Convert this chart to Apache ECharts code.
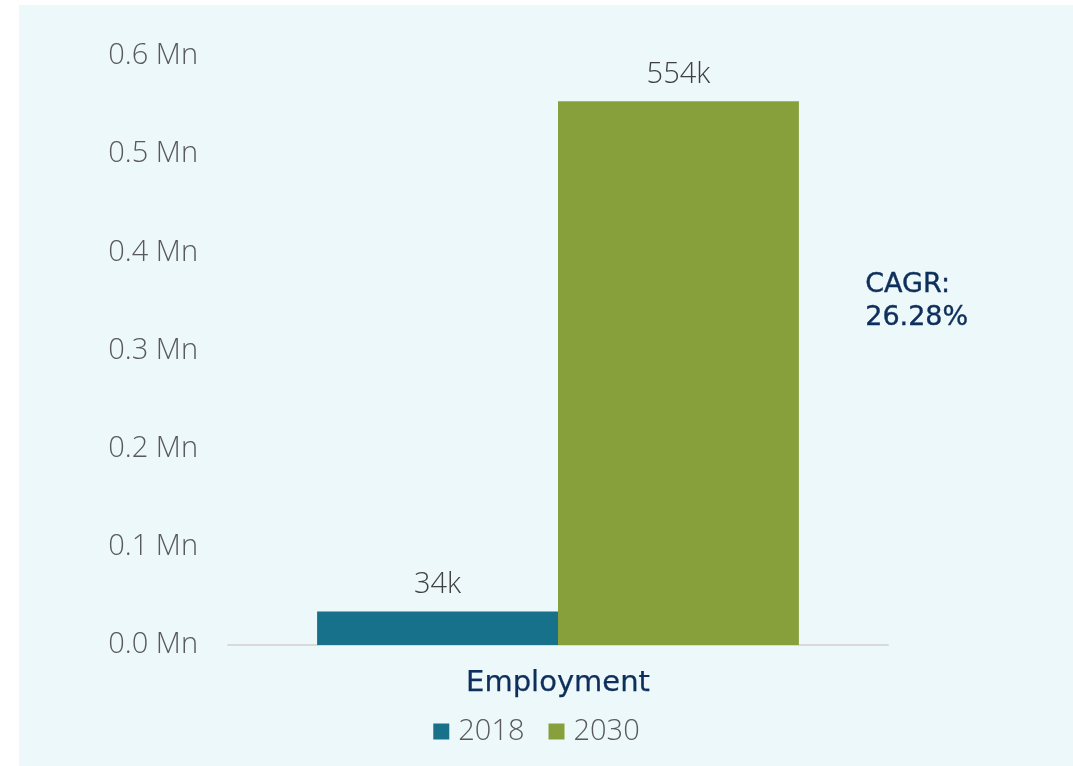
<!DOCTYPE html>
<html><head><meta charset="utf-8">
<style>html,body{margin:0;padding:0;background:#fff}#c{width:1073px;height:766px}</style>
<script src="https://cdn.jsdelivr.net/npm/echarts@6/dist/echarts.min.js"></script>
</head><body><div id="c"></div>
<script>
const categories = ['Employment'];
const seriesNames = ['2018', '2030'];
const values2018 = [34000];
const values2030 = [554000];
const valueLabels2018 = ['34k'];
const valueLabels2030 = ['554k'];
const yTicks = [0, 0.1, 0.2, 0.3, 0.4, 0.5, 0.6];
const cagrText = ['CAGR:', '26.28%'];

const chart = echarts.init(document.getElementById('c'));
const lightFont = 'Open Sans';
const darkFont = 'DejaVu Sans';
chart.setOption({
  animation: false,
  graphic: [
    { type: 'rect', z: -10, shape: { x: 19, y: 5, width: 1054, height: 761 }, style: { fill: '#edf8fa' } },
    { type: 'text', left: 865, top: 268, style: { text: cagrText.join('\n'), fill: '#0e2f5c', font: '27px "DejaVu Sans"', lineHeight: 33, stroke: '#0e2f5c', lineWidth: 0.4 } }
  ],
  grid: { left: 228, right: 185, top: 56, bottom: 121, containLabel: false },
  legend: {
    top: 712, left: 'center', itemWidth: 16, itemHeight: 16, itemGap: 24,
    icon: 'rect',
    textStyle: { fontFamily: lightFont, fontWeight: 300, fontSize: 29, color: '#595959', padding: [0, 0, 0, 4] },
    data: seriesNames
  },
  xAxis: {
    type: 'category', data: categories,
    axisLine: { lineStyle: { color: '#d9d9d9', width: 2 } },
    axisTick: { show: false },
    axisLabel: { fontFamily: darkFont, fontSize: 29, color: '#0e2f5c', margin: 24, textBorderColor: '#0e2f5c', textBorderWidth: 0.25 }
  },
  yAxis: {
    type: 'value', min: 0, max: 0.6, interval: 0.1,
    splitLine: { show: false },
    axisLine: { show: false }, axisTick: { show: false },
    axisLabel: { fontFamily: lightFont, fontSize: 29, fontWeight: 300, color: '#595959', margin: 30,
      formatter: v => v.toFixed(1) + ' Mn' }
  },
  series: [
    { name: seriesNames[0], type: 'bar', barWidth: '36.5%', barGap: '0%',
      data: values2018.map(v => v / 1e6),
      itemStyle: { color: '#17718a' },
      label: { show: true, position: 'top', distance: 12, formatter: p => valueLabels2018[p.dataIndex],
        fontFamily: lightFont, fontWeight: 300, fontSize: 29, color: '#404040' } },
    { name: seriesNames[1], type: 'bar', barWidth: '36.5%', barGap: '0%',
      data: values2030.map(v => v / 1e6),
      itemStyle: { color: '#88a03c' },
      label: { show: true, position: 'top', distance: 12, formatter: p => valueLabels2030[p.dataIndex],
        fontFamily: lightFont, fontWeight: 300, fontSize: 29, color: '#404040' } }
  ]
});
</script></body></html>
